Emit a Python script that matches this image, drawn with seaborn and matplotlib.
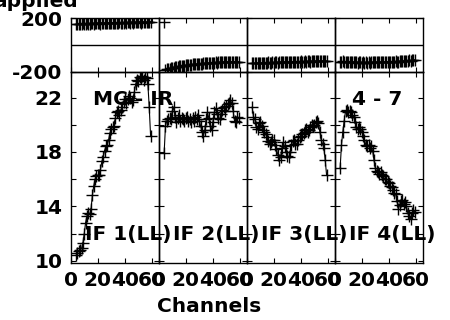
import matplotlib
matplotlib.use("Agg")
import matplotlib.pyplot as plt
import seaborn as sns

# ---------------- data ----------------
channels = list(range(4, 60))

amp_if1 = [10.4, 10.6, 10.7, 10.8, 10.9, 11.3, 12.0, 12.8, 13.3, 13.5,
           13.4, 13.8, 14.8, 15.5, 16.0, 16.2, 16.3, 16.3, 16.7, 17.3,
           17.6, 18.1, 18.4, 18.5, 18.9, 19.4, 19.7, 19.8, 19.9, 20.5,
           20.9, 21.0, 20.7, 21.1, 21.3, 21.7, 21.9, 21.6, 21.9, 22.1,
           22.0, 21.7, 21.8, 22.4, 23.0, 23.3, 23.2, 23.5, 23.4, 23.6,
           23.3, 23.5, 23.4, 23.0, 21.3, 19.2]
amp_if2 = [17.9, 19.9, 20.3, 20.4, 20.5, 20.4, 21.0, 21.3, 20.6, 20.2,
           20.5, 20.7, 20.3, 20.5, 20.4, 20.3, 20.5, 20.6, 20.3, 20.4,
           20.2, 20.5, 20.3, 20.6, 20.4, 20.7, 20.3, 19.9, 19.5, 19.2,
           19.6, 20.4, 20.9, 20.5, 19.9, 19.6, 20.2, 20.9, 21.2, 20.8,
           20.5, 20.4, 20.8, 21.1, 21.3, 21.0, 21.4, 21.5, 21.6, 21.8,
           21.6, 21.0, 20.3, 20.2, 20.6, 20.5]
amp_if3 = [21.3, 20.6, 20.4, 19.8, 19.7, 20.1, 20.2, 19.9, 19.6, 19.5,
           19.3, 19.1, 18.8, 18.6, 18.7, 18.9, 18.9, 18.5, 18.2, 17.8,
           17.4, 17.6, 18.3, 18.7, 18.4, 18.0, 17.7, 17.6, 18.0, 18.5,
           18.8, 18.9, 18.6, 18.6, 18.9, 19.1, 19.2, 19.3, 19.4, 19.6,
           19.7, 19.5, 19.6, 19.8, 20.0, 19.9, 20.0, 20.2, 20.3, 20.1,
           19.5, 18.9, 18.6, 18.3, 17.4, 16.3]
amp_if4 = [16.8, 18.5, 19.5, 20.3, 21.0, 21.1, 20.9, 21.0, 20.9, 20.7,
           20.6, 20.2, 19.8, 19.7, 19.8, 19.7, 19.5, 19.2, 18.9, 18.5,
           18.4, 18.5, 18.3, 18.4, 18.1, 17.4, 16.8, 16.6, 16.5, 16.4,
           16.5, 16.3, 16.2, 16.0, 16.0, 15.8, 15.7, 15.5, 15.4, 15.2,
           15.0, 14.9, 14.4, 13.8, 14.1, 14.4, 14.5, 14.2, 14.3, 14.0,
           13.5, 13.3, 13.1, 13.5, 13.7, 13.6]

phase_if1 = [158, 160, 157, 161, 159, 162, 160, 158, 163, 161,
             160, 164, 162, 159, 163, 165, 162, 164, 161, 166,
             163, 165, 164, 162, 167, 165, 163, 166, 168, 165,
             164, 167, 169, 166, 168, 165, 170, 167, 169, 171,
             168, 170, 167, 172, 169, 171, 170, 173, 168, 172,
             171, 174, 170, 173, 172, 175]
phase_if2 = [175, -187, -183, -180, -178, -176, -172, -170, -168, -165,
             -163, -161, -160, -157, -156, -154, -152, -151, -150, -148,
             -147, -146, -145, -143, -144, -141, -140, -139, -140, -137,
             -138, -136, -135, -136, -134, -133, -134, -132, -131, -132,
             -130, -131, -129, -130, -128, -129, -127, -128, -126, -127,
             -125, -126, -124, -126, -125, -124]
phase_if3 = [-137, -135, -138, -134, -136, -133, -135, -137, -134, -132,
             -135, -133, -131, -134, -132, -130, -133, -131, -129, -132,
             -130, -128, -131, -129, -127, -130, -128, -126, -129, -127,
             -125, -128, -126, -124, -127, -125, -123, -126, -124, -122,
             -125, -123, -121, -124, -122, -120, -123, -121, -119, -122,
             -120, -118, -121, -119, -117, -120]
phase_if4 = [-124, -126, -123, -127, -125, -128, -126, -129, -127, -130,
             -128, -131, -129, -132, -130, -131, -133, -130, -132, -131,
             -133, -130, -132, -129, -131, -130, -128, -131, -129, -127,
             -130, -128, -126, -129, -127, -125, -128, -126, -124, -127,
             -125, -123, -126, -124, -122, -121, -123, -120, -119, -121,
             -118, -116, -117, -114, -112, -110]

if_labels = ["IF 1(LL)", "IF 2(LL)", "IF 3(LL)", "IF 4(LL)"]
source_label = "MC - IR"
baseline_label = "4 - 7"
title_text = "applied"
xlabel_text = "Channels"
x_ticks = [0, 20, 40, 60]
amp_major = [10, 14, 18, 22]
amp_minor = [12, 16, 20]
phase_ticks = [-200, 200]

amps = [amp_if1, amp_if2, amp_if3, amp_if4]
phases = [phase_if1, phase_if2, phase_if3, phase_if4]

# ---------------- style ----------------
sns.set_theme(style="ticks")
plt.rcParams["font.family"] = ["DejaVu Sans"]
plt.rcParams["font.weight"] = "bold"
plt.rcParams["axes.linewidth"] = 1.0
plt.rcParams["axes.edgecolor"] = "black"
plt.rcParams["text.color"] = "black"
plt.rcParams["axes.labelcolor"] = "black"
plt.rcParams["xtick.color"] = "black"
plt.rcParams["ytick.color"] = "black"
plt.rcParams["axes.unicode_minus"] = False

FS = 14.5
W, H = 450, 320
fig = plt.figure(figsize=(4.5, 3.2), dpi=100)

left0 = 70.7 / W
pw = 88.0 / W
ph_bottom = 1 - 71.7 / H
ph_height = 53.4 / H
am_bottom = 1 - 262.5 / H
am_height = 190.8 / H

line_kw = dict(color="black", marker="+", markersize=8, markeredgewidth=1.0,
               markeredgecolor="black", linewidth=0.8, legend=False)


def wrap_segments(xs, ys):
    """Split a phase series where it wraps (jump > 180 deg)."""
    segs, cx, cy = [], [xs[0]], [ys[0]]
    for x, y, prev in zip(xs[1:], ys[1:], ys[:-1]):
        if abs(y - prev) > 180:
            segs.append((cx, cy))
            cx, cy = [], []
        cx.append(x)
        cy.append(y)
    segs.append((cx, cy))
    return segs


for i in range(4):
    axp = fig.add_axes([left0 + i * pw, ph_bottom, pw, ph_height])
    axa = fig.add_axes([left0 + i * pw, am_bottom, pw, am_height])
    axp.set_facecolor("none")
    axa.set_facecolor("none")

    for sx, sy in wrap_segments(channels, phases[i]):
        sns.lineplot(x=sx, y=sy, ax=axp, **line_kw)
    sns.lineplot(x=channels, y=amps[i], ax=axa, **line_kw)

    axp.axhline(0, color="black", linewidth=1.0)

    for ax in (axp, axa):
        ax.set_xlim(0, 65)
        ax.set_xticks(x_ticks)
        ax.tick_params(axis="both", which="both", direction="in", length=3.5,
                       width=0.8, top=True, right=True, colors="black",
                       labelsize=FS)
        ax.set_xlabel("")
        ax.set_ylabel("")
        for s in ax.spines.values():
            s.set_color("black")

    axp.set_ylim(-200, 200)
    axp.set_yticks(phase_ticks)
    axp.set_xticklabels([])

    axa.set_ylim(9.87, 23.9)
    axa.set_yticks(amp_major)
    axa.set_yticks(amp_minor, minor=True)
    axa.tick_params(axis="x", pad=6)
    axa.tick_params(axis="y", pad=6)

    if i == 0:
        axp.tick_params(axis="y", pad=6)
        for lab in axp.get_yticklabels() + axa.get_yticklabels():
            lab.set_fontweight("bold")
    else:
        axp.set_yticklabels([])
        axa.set_yticklabels([])
    for lab in axa.get_xticklabels():
        lab.set_fontweight("bold")

    axa.text(10.3, 11.53, if_labels[i], fontsize=FS, fontweight="bold",
             ha="left", va="baseline", clip_on=False, zorder=5)
    if i == 0:
        axa.text(16.5, 21.46, source_label, fontsize=FS, fontweight="bold",
                 ha="left", va="baseline", zorder=5)
    if i == 3:
        axa.text(31.2, 21.46, baseline_label, fontsize=FS, fontweight="bold",
                 ha="center", va="baseline", zorder=5)

fig.text(78 / W, 1 - 7.3 / H, title_text, fontsize=FS, fontweight="bold",
         ha="right", va="baseline")
fig.text(209.5 / W, 1 - 296.5 / H, xlabel_text, fontsize=FS,
         fontweight="bold", ha="center", va="top")

fig.savefig("out.png", dpi=100)
